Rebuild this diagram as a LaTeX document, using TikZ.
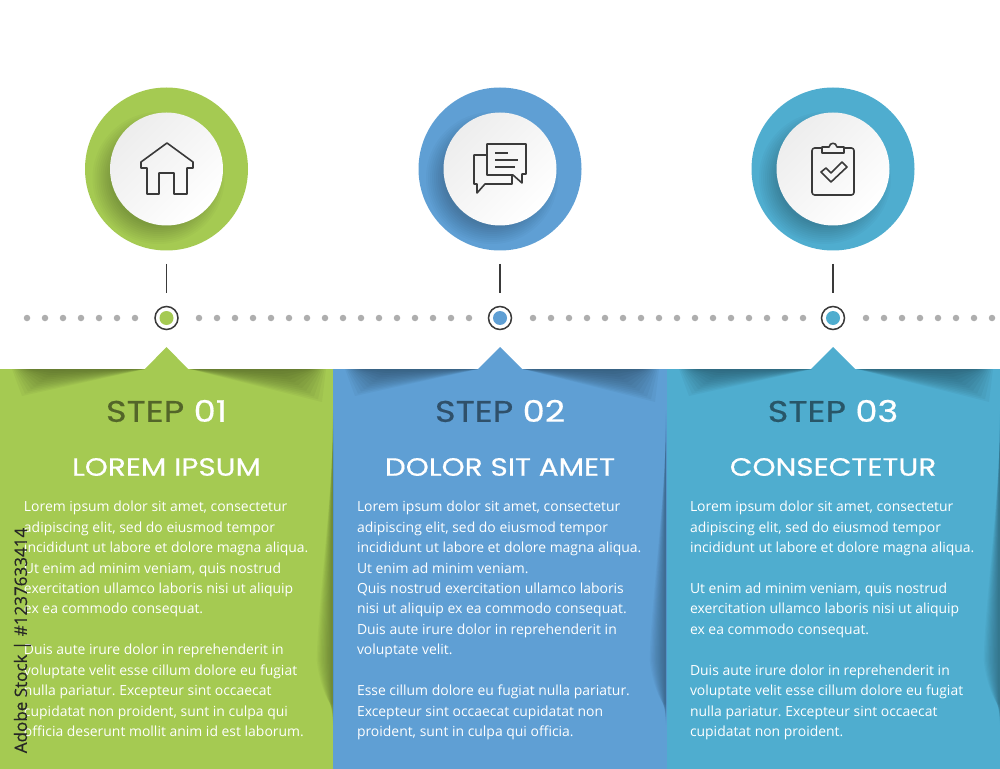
\documentclass[tikz,border=0pt]{standalone}
\usepackage{fontspec}
\setmainfont{Open Sans}
\newfontfamily\headfont[FakeStretch=1.18,FakeBold=0.5]{Poppins}
\newfontfamily\tagfont[FakeBold=0.4]{Open Sans}
\usetikzlibrary{calc}
\definecolor{stepgreen}{HTML}{A5CA52}
\definecolor{stepblue}{HTML}{5F9FD4}
\definecolor{stepcyan}{HTML}{4FADCF}
\definecolor{dotgray}{HTML}{AEAEAE}
\definecolor{icongray}{HTML}{3A3A3A}
\begin{document}
\begin{tikzpicture}[x=0.2mm,y=-0.2mm]
\tikzset{ inner sep=0pt, outer sep=0pt,
  panel/.style={fill=#1, draw=none},
  ring/.style={circle, fill=#1, minimum size=163*0.2mm},
  disc/.style={circle, left color=white!93!black, middle color=white, right color=white, shading angle=45, minimum size=113*0.2mm},
  stem/.style={draw=icongray, line width=0.3mm},
  bullet/.style={circle, draw=icongray, fill=white, line width=0.3mm, minimum size=23*0.2mm},
  core/.style={circle, fill=#1, minimum size=14*0.2mm},
  graydot/.style={circle, fill=dotgray, minimum size=6.5*0.2mm},
  icon/.style={draw=icongray, line width=0.32mm, line join=round},
  stepno/.style={font=\headfont\fontsize{17}{20}\selectfont, text=white},
  title/.style={font=\headfont\fontsize{14.2}{18}\selectfont, text=white},
  body/.style={font=\frenchspacing\fontsize{7.93}{11.65}\selectfont, text=white, align=left, anchor=north west},
  tag/.style={font=\tagfont\fontsize{9.7}{11}\selectfont, text=black!85, rotate=90},
}
\useasboundingbox (0,0) rectangle (1000,769);
\fill [white] (0,0) rectangle (1000,769);

% panels
\fill [panel=stepgreen] (0,369) rectangle (333,769);
\fill [panel=stepblue] (333,369) rectangle (667,769);
\fill [panel=stepcyan] (667,369) rectangle (1000,769);
\fill [panel=stepgreen] (145,369) -- (166.5,347) -- (188,369) -- cycle;
\fill [panel=stepblue] (478,369) -- (500,347) -- (522,369) -- cycle;
\fill [panel=stepcyan] (811,369) -- (833,347) -- (855,369) -- cycle;

% soft shadows of the panels
\foreach \x in {0,333,667} {
  \foreach \n in {0,1,...,11} {
    \fill [black, opacity=0.035] (\x+145,369) -- (\x+12+1.5*\n,369) -- (\x+22+3*\n,396-2.3*\n) -- cycle;
    \fill [black, opacity=0.035] (\x+190,369) -- (\x+326-1.5*\n,369) -- (\x+322-4*\n,402-2.8*\n) -- cycle;
    \fill [black, opacity=0.028] (\x+333,410+3*\n) .. controls (\x+331.5-0.2*\n,520) and (\x+331-1.2*\n,610) .. (\x+331-1.3*\n,660) .. controls (\x+331-\n,690) and (\x+332,710) .. (\x+333,725-2*\n) -- cycle;
  }
}

% rings
\node [ring=stepgreen] (R1) at (166.5,169) {};
\node [ring=stepblue]  (R2) at (500,169) {};
\node [ring=stepcyan]  (R3) at (833,169) {};
\foreach \r in {R1,R2,R3} {
  \begin{scope}
  \clip (\r) circle (81.5);
  \foreach \o in {0,2,...,18}
    \fill [black, opacity=0.025] ($(\r)+(-8,9)$) circle (66-\o);
  \end{scope}
}
\node [disc] (D1) at (R1) {};
\node [disc] (D2) at (R2) {};
\node [disc] (D3) at (R3) {};

% line of dots
\foreach \x in {27,45,...,135} \node [graydot] at (\x,318) {};
\foreach \x in {199,217,...,470} \node [graydot] at (\x,318) {};
\foreach \x in {533,551,...,804} \node [graydot] at (\x,318) {};
\foreach \x in {866,884,...,994} \node [graydot] at (\x,318) {};

\node [bullet] (B1) at (166.5,318) {};
\node [bullet] (B2) at (500,318) {};
\node [bullet] (B3) at (833,318) {};
\node [core=stepgreen] at (B1) {};
\node [core=stepblue]  at (B2) {};
\node [core=stepcyan]  at (B3) {};

\coordinate (S1a) at (166.5,264); \coordinate (S1b) at (166.5,293);
\coordinate (S2a) at (500,264);   \coordinate (S2b) at (500,293);
\coordinate (S3a) at (833,264);   \coordinate (S3b) at (833,293);
\draw [stem] (S1a) -- (S1b);
\draw [stem] (S2a) -- (S2b);
\draw [stem] (S3a) -- (S3b);

% house
\draw [icon] (167,143) -- (193,162) -- (193,168) -- (187,168) -- (187,194) -- (174,194) -- (174,173) -- (159,173) -- (159,194) -- (147,194) -- (147,168) -- (141,168) -- (141,162) -- cycle;

% speech bubbles
\draw [icon] (487,144) -- (526,144) -- (526,174) -- (522,174) -- (522,183) -- (513,175) -- (487,175) -- cycle;
\draw [icon] (487,155) -- (474,155) -- (474,184) -- (477,184) -- (477,193) -- (485,184) -- (512,184) -- (512,175);
\draw [icon] (495,153) -- (508,153);
\draw [icon] (495,160) -- (518,160);
\draw [icon] (495,167) -- (515,167);

% clipboard
\draw [icon, rounded corners=1.5] (822,148) -- (812,148) -- (812,195) -- (854,195) -- (854,148) -- (844,148);
\draw [icon] (822,153) -- (822,147) -- (829,147) .. controls (830,142) and (836,142) .. (837,147) -- (844,147) -- (844,153) -- cycle;
\draw [icon] (821,172) -- (826,168) -- (831,173) -- (842,162) -- (847,167) -- (831,182) -- cycle;

% headings
\node [stepno] (N1) at (166.5,411) {\textcolor{stepgreen!50!black}{STEP} 01};
\node [stepno] (N2) at (500,411) {\textcolor{stepblue!50!black}{STEP} 02};
\node [stepno] (N3) at (833,411) {\textcolor{stepcyan!50!black}{STEP} 03};
\node [title] (T1) at (166.5,467) {LOREM IPSUM};
\node [title] (T2) at (500,467) {DOLOR SIT AMET};
\node [title] (T3) at (833,467) {CONSECTETUR};

\node [body] (P1) at (24,501) {Lorem ipsum dolor sit amet, consectetur\\adipiscing elit, sed do eiusmod tempor\\incididunt ut labore et dolore magna aliqua.\\Ut enim ad minim veniam, quis nostrud\\exercitation ullamco laboris nisi ut aliquip\\ex ea commodo consequat.\\[11.65pt]Duis aute irure dolor in reprehenderit in\\voluptate velit esse cillum dolore eu fugiat\\nulla pariatur. Excepteur sint occaecat\\cupidatat non proident, sunt in culpa qui\\officia deserunt mollit anim id est laborum.};
\node [body] (P2) at (357,501) {Lorem ipsum dolor sit amet, consectetur\\adipiscing elit, sed do eiusmod tempor\\incididunt ut labore et dolore magna aliqua.\\Ut enim ad minim veniam.\\Quis nostrud exercitation ullamco laboris\\nisi ut aliquip ex ea commodo consequat.\\Duis aute irure dolor in reprehenderit in\\voluptate velit.\\[11.65pt]Esse cillum dolore eu fugiat nulla pariatur.\\Excepteur sint occaecat cupidatat non\\proident, sunt in culpa qui officia.};
\node [body] (P3) at (690,501) {Lorem ipsum dolor sit amet, consectetur\\adipiscing elit, sed do eiusmod tempor\\incididunt ut labore et dolore magna aliqua.\\[11.65pt]Ut enim ad minim veniam, quis nostrud\\exercitation ullamco laboris nisi ut aliquip\\ex ea commodo consequat.\\[11.65pt]Duis aute irure dolor in reprehenderit in\\voluptate velit esse cillum dolore eu fugiat\\nulla pariatur. Excepteur sint occaecat\\cupidatat non proident.};

\node [tag] (W1) at (22.5,640.5) {Adobe Stock | \#1237633414};
\end{tikzpicture}
\end{document}
